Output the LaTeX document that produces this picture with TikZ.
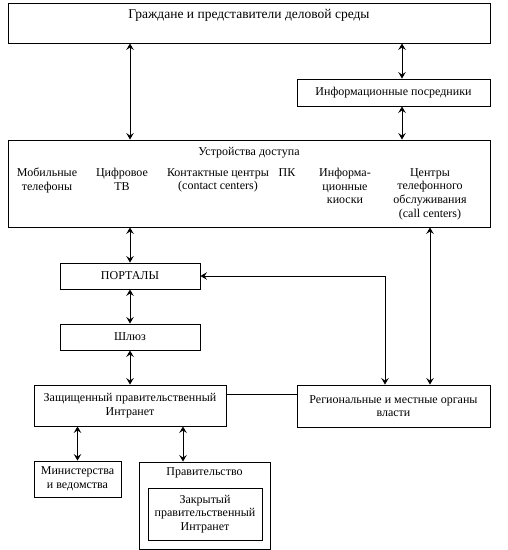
\documentclass[tikz,border=0pt]{standalone}
\usepackage{fontspec}
\setmainfont{Liberation Serif}
\usetikzlibrary{arrows.meta}
\begin{document}
\begin{tikzpicture}[x=1pt,y=-1pt,
  box/.style={draw,line width=0.9pt,inner sep=0pt,minimum width=#1},
  txt/.style={font=\fontsize{12}{13.7}\selectfont,align=center,inner sep=0pt},
  arr/.style={line width=0.9pt,{Stealth[length=6.5pt,width=7.5pt,inset=2.5pt]}-{Stealth[length=6.5pt,width=7.5pt,inset=2.5pt]}},
  ln/.style={line width=0.9pt}]
\useasboundingbox (0,0) rectangle (508,550);
% boxes
\node[box=482pt,minimum height=40pt] (top) at (249,23) {};
\node[txt,font=\fontsize{13.5}{15}\selectfont] (toptxt) at (249,15) {Граждане и представители деловой среды};
\node[box=193pt,minimum height=27pt,txt] (info) at (393.5,92.5) {Информационные посредники};
\node[box=482pt,minimum height=87pt] (dev) at (249,183.5) {};
\node[txt] (devtitle) at (249,153) {Устройства доступа};
\node[txt,anchor=north] (d1) at (47,168) {Мобильные\\телефоны};
\node[txt,anchor=north] (d2) at (122,168) {Цифровое\\ТВ};
\node[txt,anchor=north] (d3) at (218,168) {Контактные центры\\(contact centers)};
\node[txt,anchor=north] (d4) at (287,168) {ПК};
\node[txt,anchor=north] (d5) at (345,168) {Информа-\\ционные\\киоски};
\node[txt,anchor=north] (d6) at (430,168) {Центры\\телефонного\\обслуживания\\(call centers)};
\node[box=140pt,minimum height=26pt,txt] (portal) at (130,276) {ПОРТАЛЫ};
\node[box=140pt,minimum height=26pt,txt] (gate) at (130,337) {Шлюз};
\node[box=192pt,minimum height=41pt,txt] (intra) at (130,405.5) {Защищенный правительственный\\Интранет};
\node[box=193pt,minimum height=42pt,txt] (reg) at (393.5,406) {Региональные и местные органы\\власти};
\node[box=87pt,minimum height=36pt,txt] (min) at (77.5,479) {Министерства\\и ведомства};
\node[box=131pt,minimum height=87pt] (gov) at (204.5,505.5) {};
\node[txt] (govtxt) at (204.5,473) {Правительство};
\node[box=114pt,minimum height=52pt,txt] (closed) at (205,514) {Закрытый\\правительственный\\Интранет};
% connector x positions
\coordinate (xi) at (402,0);
\coordinate (xc) at (430,0);
\coordinate (xp) at (385,0);
\coordinate (xg) at (183,0);
% connectors
\draw[arr] (top.south -| portal.north) -- (dev.north -| portal.north);
\draw[arr] (top.south -| xi) -- (info.north -| xi);
\draw[arr] (info.south -| xi) -- (dev.north -| xi);
\draw[arr] (dev.south -| portal.north) -- (portal.north);
\draw[arr] (portal.south) -- (gate.north);
\draw[arr] (gate.south) -- (intra.north);
\draw[arr] (portal.east) -- (portal.east -| xp) -- (reg.north -| xp);
\draw[arr] (dev.south -| xc) -- (reg.north -| xc);
\draw[ln] (intra.east |- 0,394) -- (reg.west |- 0,394);
\draw[arr] (intra.south -| min.north) -- (min.north);
\draw[arr] (intra.south -| xg) -- (gov.north -| xg);
\end{tikzpicture}
\end{document}
